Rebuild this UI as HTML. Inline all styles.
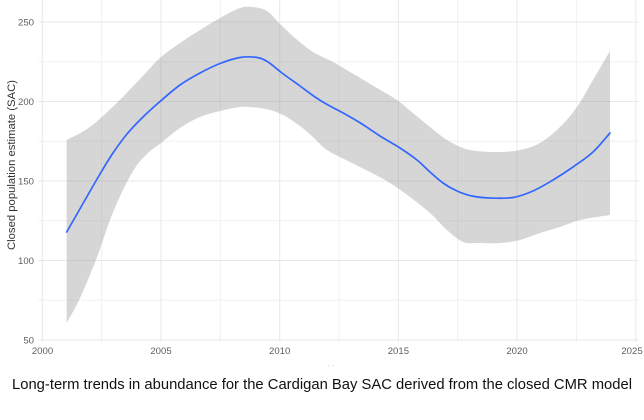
<!DOCTYPE html>
<html>
<head>
<meta charset="utf-8">
<style>
  html, body { margin: 0; padding: 0; background: #ffffff; }
  svg { display: block; }
  text { font-family: "Liberation Sans", Arial, sans-serif; }
</style>
</head>
<body>
<svg width="644" height="420" viewBox="0 0 644 420" xmlns="http://www.w3.org/2000/svg">
  <rect x="0" y="0" width="644" height="420" fill="#ffffff"/>

  <!-- minor grid -->
  <g stroke="#f0f0f0" stroke-width="1">
    <line x1="38.5" y1="300.25" x2="639" y2="300.25"/>
    <line x1="38.5" y1="220.75" x2="639" y2="220.75"/>
    <line x1="38.5" y1="141.25" x2="639" y2="141.25"/>
    <line x1="38.5" y1="61.75" x2="639" y2="61.75"/>
    <line x1="101.6" y1="0" x2="101.6" y2="342"/>
    <line x1="220.3" y1="0" x2="220.3" y2="342"/>
    <line x1="339" y1="0" x2="339" y2="342"/>
    <line x1="457.7" y1="0" x2="457.7" y2="342"/>
    <line x1="576.4" y1="0" x2="576.4" y2="342"/>
  </g>
  <!-- major grid -->
  <g stroke="#e8e8e8" stroke-width="1">
    <line x1="38.5" y1="340" x2="639" y2="340"/>
    <line x1="38.5" y1="260.5" x2="639" y2="260.5"/>
    <line x1="38.5" y1="181" x2="639" y2="181"/>
    <line x1="38.5" y1="101.5" x2="639" y2="101.5"/>
    <line x1="38.5" y1="22" x2="639" y2="22"/>
    <line x1="42.3" y1="0" x2="42.3" y2="342"/>
    <line x1="161" y1="0" x2="161" y2="342"/>
    <line x1="279.7" y1="0" x2="279.7" y2="342"/>
    <line x1="398.4" y1="0" x2="398.4" y2="342"/>
    <line x1="517" y1="0" x2="517" y2="342"/>
    <line x1="635.8" y1="0" x2="635.8" y2="342"/>
  </g>

  <!-- confidence band (fallback polygon, replaced by smooth path via script) -->
  <polygon id="band" fill="#999999" fill-opacity="0.4" stroke="none" points="
    66.7,140 90,127 116.7,103 140,79 160,58 180,43 200,30 220,18 240,8 253,7 267,11 280,24 295,38 313,52 333,62 350,72 367,82 382,91 397,100 413,113 430,127 447,140 463,148 477,151 500,152 520,150 540,143 560,127 577,107 593,80 610,51
    610,215 580,220 560,227 540,233 520,240 500,243 477,243 463,242 447,230 430,213 410,197 390,183 370,172 350,162 327,150 313,137 300,126 285,116 270,110 255,107.5 240,107 220,111 200,117 180,128 161,143 148,153 135,168 122,192 110,220 96.7,258 80,298 66.7,323"/>
  <path id="bandSmooth" fill="#999999" fill-opacity="0.4" stroke="none" d=""/>

  <!-- fitted line -->
  <polyline id="fit" fill="none" stroke="#3366FF" stroke-width="1.7" stroke-linejoin="round" stroke-linecap="round" points="
    66.7,232 85,200 100,174 113,153 127,134 143,117 160,101.5 180,85 200,73 220,63.5 240,57.5 257,57.5 268,62 282,73 300,86 315,97 328,105 345,114 362,124 380,136 400,148 417,160 430,172 443,183 457,191 472,196 490,198 513,197.5 533,191 553,180 573,167 593,152 610,133"/>
  <path id="fitSmooth" fill="none" stroke="#3366FF" stroke-width="1.7" stroke-linejoin="round" stroke-linecap="round" d=""/>

  <!-- y tick labels -->
  <g fill="#5e5e5e" font-size="9.6" text-anchor="end">
    <text x="34" y="343.5">50</text>
    <text x="34" y="264">100</text>
    <text x="34" y="184.5">150</text>
    <text x="34" y="105">200</text>
    <text x="34" y="25.5">250</text>
  </g>

  <!-- x tick labels -->
  <g fill="#5e5e5e" font-size="9.6" text-anchor="middle">
    <text x="42.5" y="354">2000</text>
    <text x="161" y="354">2005</text>
    <text x="279.7" y="354">2010</text>
    <text x="398.4" y="354">2015</text>
    <text x="517" y="354">2020</text>
    <text x="632" y="354">2025</text>
  </g>

  <!-- faint artifact under axis -->
  <text x="331" y="368" fill="#cccccc" font-size="7" text-anchor="middle">- -</text>

  <!-- y axis title -->
  <text transform="translate(15,165) rotate(-90)" fill="#333333" font-size="11.3" text-anchor="middle" textLength="170" lengthAdjust="spacingAndGlyphs">Closed population estimate (SAC)</text>

  <!-- caption -->
  <text x="12" y="389" fill="#111111" font-size="14.5" textLength="620" lengthAdjust="spacingAndGlyphs">Long-term trends in abundance for the Cardigan Bay SAC derived from the closed CMR model</text>
</svg>
<script>
(function(){
  function parse(s){
    return s.trim().split(/\s+/).map(function(p){var a=p.split(',');return [parseFloat(a[0]),parseFloat(a[1])];});
  }
  function segs(pts){
    var d='';
    for(var i=0;i<pts.length-1;i++){
      var p0=pts[i-1]||pts[i], p1=pts[i], p2=pts[i+1], p3=pts[i+2]||pts[i+1];
      var c1x=p1[0]+(p2[0]-p0[0])/6, c1y=p1[1]+(p2[1]-p0[1])/6;
      var c2x=p2[0]-(p3[0]-p1[0])/6, c2y=p2[1]-(p3[1]-p1[1])/6;
      d+=' C'+c1x.toFixed(2)+','+c1y.toFixed(2)+' '+c2x.toFixed(2)+','+c2y.toFixed(2)+' '+p2[0]+','+p2[1];
    }
    return d;
  }
  try{
    var all=parse(document.getElementById('band').getAttribute('points'));
    var split=-1;
    for(var i=1;i<all.length;i++){ if(all[i][0]===all[i-1][0]){ split=i; break; } }
    if(split>0){
      var upper=all.slice(0,split), lower=all.slice(split);
      var bd='M'+upper[0][0]+','+upper[0][1]+segs(upper)+' L'+lower[0][0]+','+lower[0][1]+segs(lower)+' Z';
      document.getElementById('bandSmooth').setAttribute('d',bd);
      document.getElementById('band').style.display='none';
    }
    var fit=parse(document.getElementById('fit').getAttribute('points'));
    var fd='M'+fit[0][0]+','+fit[0][1]+segs(fit);
    document.getElementById('fitSmooth').setAttribute('d',fd);
    document.getElementById('fit').style.display='none';
  }catch(e){}
})();
</script>
</body>
</html>
